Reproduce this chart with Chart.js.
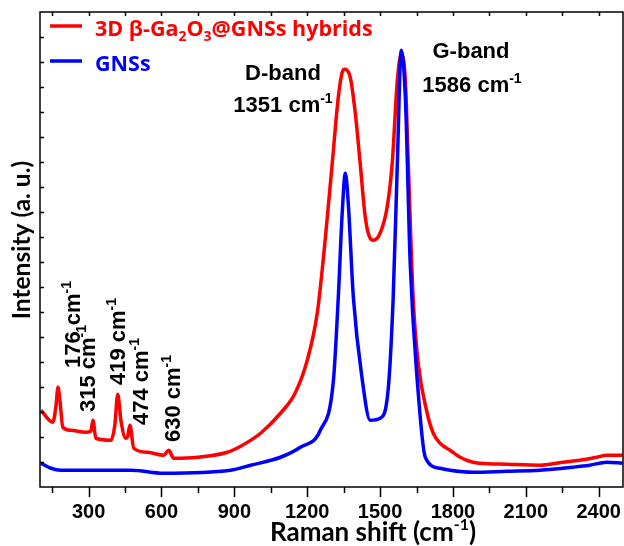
<!DOCTYPE html>
<html>
<head>
<meta charset="utf-8">
<script src="https://cdn.jsdelivr.net/npm/chart.js@4.4.1/dist/chart.umd.min.js"></script>
<style>
  html, body { margin: 0; padding: 0; background: #fff; }
</style>
</head>
<body>
<canvas id="raman" width="624" height="546"></canvas>
<script>
// Raman spectra (x: cm-1, y: arbitrary units)
const hybridShift = [104, 153, 166, 174, 182, 194, 227, 289, 309, 318, 330, 392, 408, 420, 433, 453, 461, 470, 486,
  544, 609, 630, 650, 749, 872, 926, 1008, 1090, 1150, 1201, 1242, 1275, 1303, 1328, 1344, 1355, 1377, 1398,
  1418, 1439, 1459, 1472, 1500, 1529, 1550, 1571, 1587, 1604, 1616, 1636, 1657, 1694, 1719, 1747, 1788, 1829,
  1882, 1911, 2022, 2158, 2252, 2322, 2392, 2433, 2499];
const hybridIntensity = [3.07, 2.59, 3.27, 3.99, 3.47, 2.39, 2.27, 2.19, 2.23, 2.67, 1.95, 1.87, 2.47, 3.71, 2.67, 1.95, 2.03, 2.47, 1.55,
  1.39, 1.27, 1.47, 1.15, 1.19, 1.39, 1.63, 2.15, 2.95, 3.75, 5.1, 7.0, 9.99, 12.95, 15.59, 16.59, 16.71, 16.39, 14.95,
  12.95, 10.79, 9.95, 9.87, 10.15, 11.19, 12.95, 16.27, 17.3, 16.27, 12.95, 7.59, 4.95, 2.95, 2.15, 1.75, 1.47, 1.19,
  0.99, 0.95, 0.91, 0.87, 0.99, 1.07, 1.19, 1.27, 1.27];

const gnsShift = [104, 145, 186, 474, 609, 884, 967, 1090, 1172, 1254, 1308, 1328, 1344, 1357, 1369, 1390, 1427,
  1459, 1500, 1533, 1554, 1571, 1587, 1604, 1624, 1653, 1686, 1747, 1788, 1882, 2022, 2158, 2293, 2363, 2433, 2499];
const gnsIntensity = [0.95, 0.75, 0.67, 0.67, 0.55, 0.67, 0.87, 1.19, 1.59, 2.27, 4.27, 7.59, 10.95, 12.55, 11.35, 7.59, 4.27,
  2.67, 2.75, 3.87, 7.59, 12.95, 17.47, 15.59, 8.95, 4.27, 1.19, 0.75, 0.67, 0.59, 0.63, 0.67, 0.79, 0.87, 0.99, 0.95];

const xTicks = [300, 600, 900, 1200, 1500, 1800, 2100, 2400];
const peakNames = ['176', '315', '419', '474', '630'];

const toPoints = (xs, ys) => xs.map((x, i) => ({ x: x, y: ys[i] }));

const ARIAL = '"Liberation Sans", Arial, sans-serif';
const CAL = 'Lato, "Open Sans", sans-serif';
const OPEN = '"Open Sans", Lato, sans-serif';

// draws text with sub/superscript pieces: [text, 0 normal | 1 sup | -1 sub]
function richText(ctx, parts, x, y, size, family, align, small) {
  const k = small || 0.62;
  const fontFor = m => 'bold ' + (m ? Math.round(size * k) : size) + 'px ' + family;
  let w = 0;
  parts.forEach(([t, m]) => { ctx.font = fontFor(m); w += ctx.measureText(t).width; });
  let cx = align === 'center' ? x - w / 2 : x;
  ctx.textAlign = 'left';
  ctx.textBaseline = 'alphabetic';
  parts.forEach(([t, m]) => {
    ctx.font = fontFor(m);
    const dy = m === 1 ? -size * 0.42 : (m === -1 ? size * 0.22 : 0);
    ctx.fillText(t, cx, y + dy);
    cx += ctx.measureText(t).width;
  });
}

const decorPlugin = {
  id: 'decor',
  afterDraw(chart) {
    const ctx = chart.ctx;
    const a = chart.chartArea;
    const xs = chart.scales.x, ys = chart.scales.y;
    ctx.save();
    ctx.strokeStyle = '#000';
    ctx.lineWidth = 1.5;
    ctx.strokeRect(a.left, a.top, a.right - a.left, a.bottom - a.top);

    // ticks
    ctx.beginPath();
    for (let v = 150; v <= 2400; v += 150) {
      const px = Math.round(xs.getPixelForValue(v)) + 0.5;
      const len = v % 300 === 0 ? 10 : 6;
      ctx.moveTo(px, a.bottom); ctx.lineTo(px, a.bottom + len);
      ctx.moveTo(px, a.top); ctx.lineTo(px, a.top + 4);
    }
    for (let k = 1; k < 19; k++) {
      const py = Math.round(ys.getPixelForValue(k)) + 0.5;
      ctx.moveTo(a.left, py); ctx.lineTo(a.left + 4, py);
    }
    ctx.stroke();

    // legend
    ctx.lineWidth = 3.5;
    ctx.strokeStyle = '#ff0000';
    ctx.beginPath(); ctx.moveTo(50, 26); ctx.lineTo(82, 26); ctx.stroke();
    ctx.strokeStyle = '#0000ff';
    ctx.beginPath(); ctx.moveTo(50, 61); ctx.lineTo(82, 61); ctx.stroke();
    ctx.fillStyle = '#ff0000';
    richText(ctx, [['3D β-Ga', 0], ['2', -1], ['O', 0], ['3', -1], ['@GNSs hybrids', 0]], 95, 36, 21.5, OPEN, 'left', 0.66);
    ctx.fillStyle = '#0000ff';
    richText(ctx, [['GNSs', 0]], 95, 71, 21.5, OPEN, 'left');

    // band annotations
    ctx.fillStyle = '#000';
    richText(ctx, [['D-band', 0]], 283, 80, 22, ARIAL, 'center');
    richText(ctx, [['1351 cm', 0], ['-1', 1]], 283, 112, 22, ARIAL, 'center');
    richText(ctx, [['G-band', 0]], 471, 58, 22, ARIAL, 'center');
    richText(ctx, [['1586 cm', 0], ['-1', 1]], 472, 92, 22, ARIAL, 'center');

    // rotated peak labels
    const spots = [[72, 368], [87, 412], [117, 385], [140, 425], [172, 442]];
    peakNames.forEach((name, i) => {
      ctx.save();
      ctx.translate(spots[i][0], spots[i][1]);
      ctx.rotate(-Math.PI / 2);
      richText(ctx, [[name + ' cm', 0], ['-1', 1]], 0, 8, 22, ARIAL, 'left');
      ctx.restore();
    });

    // axis titles
    richText(ctx, [['Raman shift (cm', 0], ['-1', 1], [')', 0]], 373, 541, 26, CAL, 'center');
    ctx.save();
    ctx.translate(22, 240);
    ctx.rotate(-Math.PI / 2);
    richText(ctx, [['Intensity (a. u.)', 0]], 0, 8, 24.5, CAL, 'center');
    ctx.restore();
    ctx.restore();
  }
};

new Chart(document.getElementById('raman'), {
  type: 'line',
  data: {
    datasets: [
      {
        label: '3D β-Ga2O3@GNSs hybrids',
        data: toPoints(hybridShift, hybridIntensity),
        borderColor: '#ff0000',
        borderWidth: 3.5,
        pointRadius: 0,
        cubicInterpolationMode: 'monotone',
        order: 1
      },
      {
        label: 'GNSs',
        data: toPoints(gnsShift, gnsIntensity),
        borderColor: '#0000ff',
        borderWidth: 3.5,
        pointRadius: 0,
        cubicInterpolationMode: 'monotone',
        order: 0
      }
    ]
  },
  options: {
    responsive: false,
    animation: false,
    layout: { padding: { left: 40, top: 12, right: 1, bottom: 9 } },
    plugins: { legend: { display: false }, tooltip: { enabled: false } },
    scales: {
      x: {
        type: 'linear',
        min: 100,
        max: 2500,
        grid: { display: false, drawTicks: false },
        border: { display: false },
        afterBuildTicks: s => { s.ticks = xTicks.map(v => ({ value: v })); },
        afterFit: s => { s.paddingLeft = 0; s.paddingRight = 0; },
        ticks: {
          autoSkip: false,
          maxRotation: 0,
          padding: 13,
          color: '#000',
          font: { family: ARIAL, size: 20, weight: 'bold' },
          callback: v => String(v)
        }
      },
      y: { min: 0, max: 19, display: false }
    }
  },
  plugins: [decorPlugin]
});
</script>
</body>
</html>
